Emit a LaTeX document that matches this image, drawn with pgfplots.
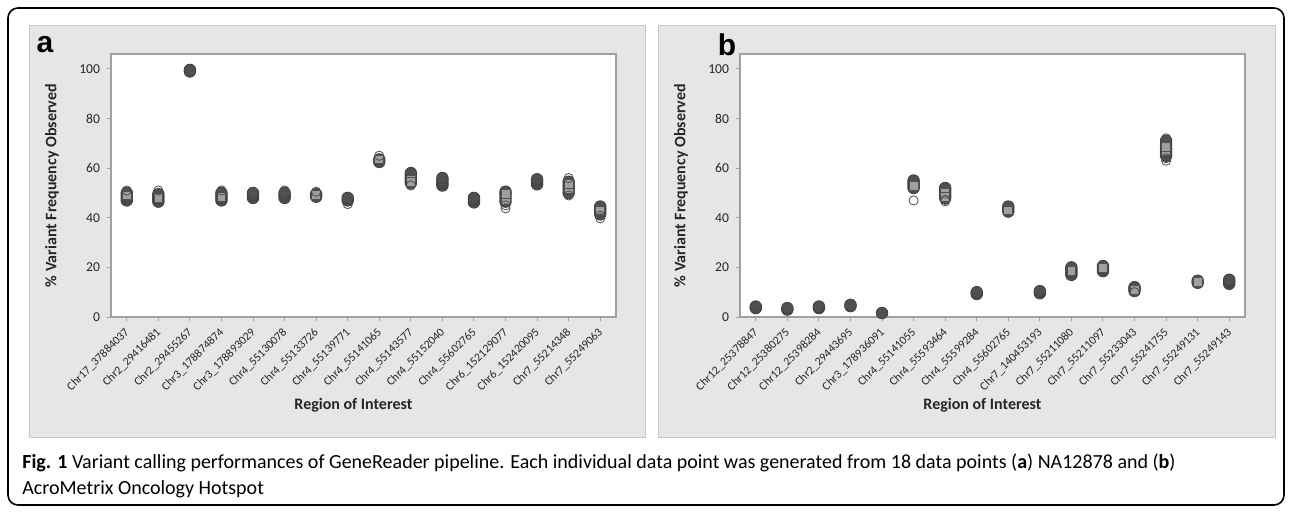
\documentclass[border=0pt]{standalone}
\usepackage{fontspec}
\setmainfont{Carlito}
\newfontfamily\arialfont{Liberation Sans}
\usepackage{pgfplots}
\pgfplotsset{compat=1.18}

\definecolor{panelgray}{HTML}{E6E6E6}
\definecolor{paneledge}{HTML}{C8C8C8}
\definecolor{axisgray}{HTML}{A0A0A0}
\definecolor{dotgray}{HTML}{505050}

\pgfplotsset{
  panel/.style={
    scale only axis, width=252.5pt, height=131.5pt,
    anchor=south west,
    xmin=-0.5, xmax=15.5, ymin=0, ymax=106,
    axis background/.style={fill=white},
    axis line style={axisgray, line width=0.7pt},
    xtick={0,...,15}, ytick={0,20,...,100},
    tick align=outside, tick pos=left, major tick length=2pt,
    every tick/.style={axisgray, line width=0.5pt},
    /pgf/number format/assume math mode=true,
    y tick label style={font=\fontsize{6.8}{7}\selectfont, text=black!85},
    x tick label style={font=\fontsize{5.9}{6}\selectfont, text=black!85,
      rotate=45, anchor=east, inner sep=1pt, xshift=-2pt, yshift=-3.5pt},
    xlabel={Region of Interest},
    ylabel={\% Variant Frequency Observed},
    label style={font=\bfseries\fontsize{8}{9}\selectfont, text=black!85},
    xlabel style={at={(axis description cs:0.48,-0.335)}, anchor=center},
    ylabel style={at={(axis description cs:-0.117,0.5)}, anchor=center},
  },
  core/.style={only marks, mark=*, mark size=2.9pt,
    mark options={fill=dotgray, draw=dotgray!80!black}},
  sq/.style={only marks, mark=square*, mark size=2.2pt,
    mark options={fill=gray!75, draw=dotgray}},
  ring/.style={only marks, mark=o, mark size=2.3pt,
    mark options={draw=dotgray, line width=0.4pt}},
}

\begin{document}
\begin{tikzpicture}
\path (0pt,0pt) rectangle (646pt,255.5pt);
% frame and panels
\draw[line width=0.8pt, rounded corners=5pt] (4pt,3pt) rectangle (642pt,251.5pt);
\fill[panelgray, draw=paneledge, line width=0.4pt] (14.5pt,37pt) rectangle (322.5pt,243pt);
\fill[panelgray, draw=paneledge, line width=0.4pt] (329pt,37pt) rectangle (637.5pt,243pt);
\node[font=\arialfont\bfseries\fontsize{15}{16}\selectfont] at (22.5pt,233pt) {a};
\node[font=\arialfont\bfseries\fontsize{15}{16}\selectfont] at (363.5pt,233pt) {b};

% panel a
\begin{axis}[panel, at={(55.5pt,97pt)},
  xticklabels={Chr17\_37884037, Chr2\_29416481, Chr2\_29455267, Chr3\_178874874,
    Chr3\_178893029, Chr4\_55130078, Chr4\_55133726, Chr4\_55139771,
    Chr4\_55141065, Chr4\_55143577, Chr4\_55152040, Chr4\_55602765,
    Chr6\_152129077, Chr6\_152420095, Chr7\_55214348, Chr7\_55249063}]
\addplot[core] coordinates {
  (0,47) (0,48) (0,49) (0,50)
  (1,46.5) (1,47.5) (1,48.5) (1,49.5)
  (2,99) (2,99.6)
  (3,47) (3,48) (3,49) (3,50)
  (4,48) (4,49) (4,50)
  (5,48) (5,49) (5,50)
  (6,48.5) (6,49.5)
  (7,47) (7,48)
  (8,62.5) (8,63.5)
  (9,54) (9,55) (9,56) (9,57) (9,58)
  (10,53) (10,54) (10,55) (10,56)
  (11,46.2) (11,47.2) (11,48)
  (12,46.5) (12,48) (12,49.5) (12,50.5)
  (13,53.5) (13,54.5) (13,55.5)
  (14,50) (14,51.5) (14,53) (14,54.5)
  (15,41.5) (15,42.5) (15,43.5) (15,44.5)
};
\addplot[sq] coordinates {
  (0,49) (1,48) (3,48.5) (8,63.5) (9,55.5) (9,54.5) (12,47) (12,49.5)
  (14,51.5) (14,53.5) (15,43) (6,49.3)
};
\addplot[ring] coordinates {
  (0,51) (1,51) (2,98.5) (3,51) (5,51) (6,50.5) (7,45.5) (8,65)
  (9,53) (12,43.8) (12,45) (14,56) (14,49) (15,39.8) (15,40.8)
};
\end{axis}

% panel b
\begin{axis}[panel, at={(370pt,97pt)},
  xticklabels={Chr12\_25378847, Chr12\_25380275, Chr12\_25398284, Chr2\_29443695,
    Chr3\_178936091, Chr4\_55141055, Chr4\_55593464, Chr4\_55599284,
    Chr4\_55602765, Chr7\_140453193, Chr7\_55211080, Chr7\_55211097,
    Chr7\_55233043, Chr7\_55241755, Chr7\_55249131, Chr7\_55249143}]
\addplot[core] coordinates {
  (0,3.6) (0,4.2)
  (1,3.0) (1,3.6)
  (2,3.6) (2,4.2)
  (3,4.4) (3,4.9)
  (4,1.6)
  (5,52) (5,53) (5,54) (5,55)
  (6,48) (6,49) (6,50) (6,51) (6,52)
  (7,9.3) (7,10)
  (8,42.5) (8,43.5) (8,44.5)
  (9,9.6) (9,10.4)
  (10,17) (10,18) (10,19) (10,20)
  (11,18.5) (11,19.5) (11,20.5)
  (12,10.5) (12,11.5) (12,12)
  (13,65) (13,66.5) (13,68) (13,69.5) (13,71)
  (14,13.8) (14,14.6)
  (15,13.4) (15,14.2) (15,15)
};
\addplot[sq] coordinates {
  (5,53) (6,50) (6,48.5) (8,43) (10,18.5) (11,19.8) (12,11)
  (13,67) (13,68.5) (14,14.2)
};
\addplot[ring] coordinates {
  (0,3.9) (2,3.8) (3,4.6) (4,1.2) (5,47) (6,47.2) (6,46.6) (12,10)
  (13,63) (13,64) (13,72)
};
\end{axis}

% caption
\node[anchor=base west, inner sep=0pt, font=\fontsize{10}{12}\selectfont] at (11pt,21.5pt)
  {\textbf{Fig. 1} Variant calling performances of GeneReader pipeline. Each individual data point was generated from 18 data points (\textbf{a}) NA12878 and (\textbf{b})};
\node[anchor=base west, inner sep=0pt, font=\fontsize{10}{12}\selectfont] at (11pt,8.5pt)
  {AcroMetrix Oncology Hotspot};
\end{tikzpicture}
\end{document}
